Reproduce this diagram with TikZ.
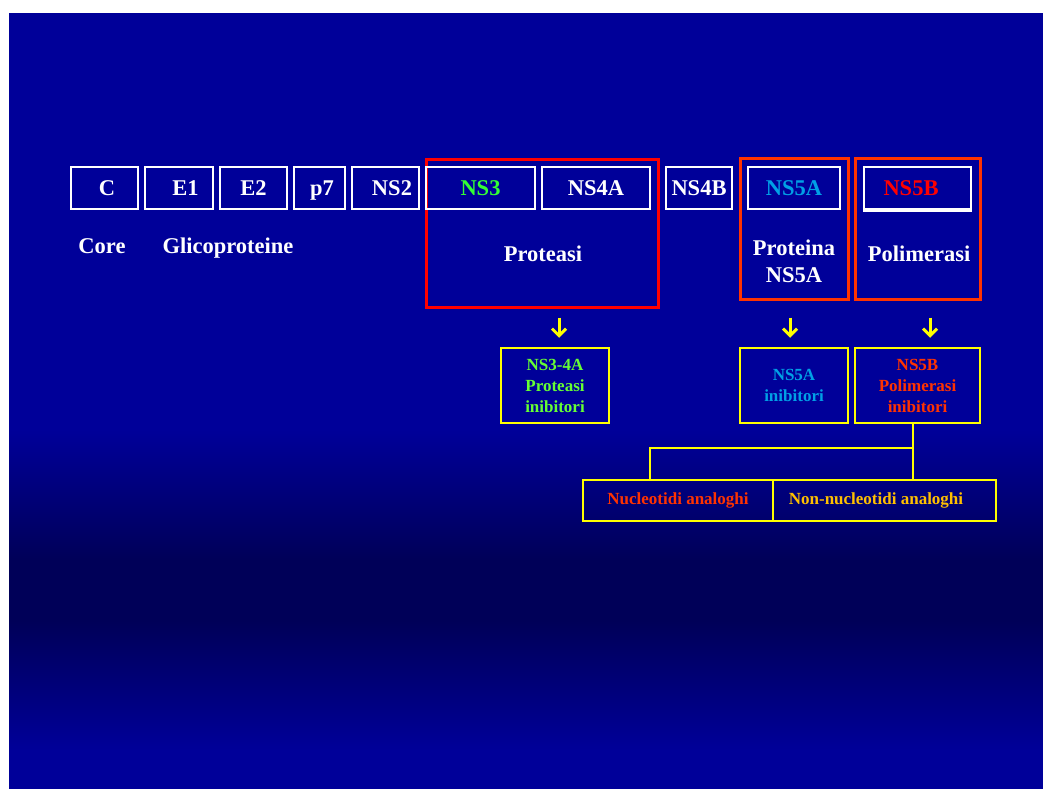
\documentclass[tikz,border=0pt]{standalone}
\usepackage{fontspec}
\setmainfont{Liberation Serif}
\usetikzlibrary{arrows.meta}
\definecolor{bgblue}{RGB}{0,0,153}
\definecolor{bgdark}{RGB}{0,0,88}
\definecolor{nsgreen}{RGB}{51,255,51}
\definecolor{igreen}{RGB}{102,255,51}
\definecolor{nsblue}{RGB}{0,160,230}
\definecolor{nsred}{RGB}{255,0,0}
\definecolor{ored}{RGB}{255,51,0}
\definecolor{gold}{RGB}{255,192,0}
\definecolor{yel}{RGB}{255,255,0}
\begin{document}
\begin{tikzpicture}[x=1pt,y=-1pt,
  big/.style={font=\fontsize{22.5}{27}\selectfont\bfseries},
  small/.style={font=\fontsize{17}{21}\selectfont\bfseries},
  wbox/.style={draw=white, line width=2pt, text=white, big, inner sep=0pt, minimum height=42pt, text height=15pt, text depth=0pt},
  rbox/.style={draw=#1, line width=3pt, inner sep=0pt},
  ybox/.style={draw=yel, line width=2.5pt, small, align=center, inner sep=0pt},
  lbl/.style={text=white, big, align=center, inner sep=0pt},
  yarrow/.style={draw=yel, line width=3pt, -{Straight Barb[length=7pt,width=14pt]}},
  yline/.style={draw=yel, line width=2pt}
]
\useasboundingbox (0,0) rectangle (1043,789);
\fill[white] (0,0) rectangle (1043,789);
\fill[bgblue] (9,13) rectangle (1043,431);
\shade[top color=bgblue, bottom color=bgdark] (9,430) rectangle (1043,561);
\fill[bgdark] (9,560) rectangle (1043,621);
\shade[top color=bgdark, bottom color=bgblue] (9,620) rectangle (1043,751);
\fill[bgblue] (9,750) rectangle (1043,789);

% red frames
\node[rbox=nsred, minimum width=232pt, minimum height=148pt] (prot) at (542,233) {};
\node[rbox=ored, minimum width=108pt, minimum height=141pt] (prna) at (794,228.5) {};
\node[rbox=ored, minimum width=125pt, minimum height=141pt] (poli) at (917.5,228.5) {};

% top row
\node[wbox, minimum width=67pt] (c)    at (104.5,188) {\hspace*{5pt}C};
\node[wbox, minimum width=68pt] (e1)   at (179,188)   {\hspace*{13pt}E1};
\node[wbox, minimum width=67pt] (e2)   at (253.5,188) {E2};
\node[wbox, minimum width=51pt] (p7)   at (319.5,188) {\hspace*{5pt}p7};
\node[wbox, minimum width=67pt] (ns2)  at (385.5,188) {\hspace*{13pt}NS2};
\node[wbox, minimum width=109pt, text=nsgreen] (ns3) at (480.5,188) {NS3};
\node[wbox, minimum width=108pt] (ns4a) at (596,188) {NS4A};
\node[wbox, minimum width=66pt] (ns4b) at (699,188) {NS4B};
\node[wbox, minimum width=92pt, text=nsblue] (ns5a) at (794,188) {NS5A};
\node[wbox, minimum width=107pt, text=nsred] (ns5b) at (917.5,188) {NS5B\hspace*{13pt}};
\draw[white, line width=3pt] (ns5b.south west) -- (ns5b.south east);

% labels
\node[lbl, anchor=base] (core) at (102,253) {Core};
\node[lbl, anchor=base] (glico) at (228,253) {Glicoproteine};
\node[lbl, anchor=base] (protl) at (543,261.5) {Proteasi};
\node[lbl] (prnal) at (794,261) {Proteina\\NS5A};
\node[lbl, anchor=base] (polil) at (919,261) {Polimerasi};

% inhibitor boxes
\node[ybox, minimum width=108pt, minimum height=75pt, text=igreen] (inA) at (555,385.5) {NS3-4A\\Proteasi\\inibitori};
\node[ybox, minimum width=108pt, minimum height=75pt, text=nsblue] (inN) at (794,385.5) {NS5A\\inibitori};
\node[ybox, minimum width=125pt, minimum height=75pt, text=ored] (inB) at (917.5,385.5) {NS5B\\Polimerasi\\inibitori};

% arrows
\draw[yarrow, shorten <=9pt, shorten >=9pt] ([xshift=4pt]prot.south -| inA.north) -- ([xshift=4pt]inA.north);
\draw[yarrow, shorten <=17pt, shorten >=9pt] ([xshift=-4pt]prna.south) -- ([xshift=-4pt]inN.north);
\draw[yarrow, shorten <=17pt, shorten >=9pt] ([xshift=12.5pt]poli.south) -- ([xshift=12.5pt]inB.north);

% bottom boxes
\node[ybox, minimum width=190pt, minimum height=41pt, text=ored] (nucl) at (678,500.5) {Nucleotidi analoghi};
\node[ybox, minimum width=223pt, minimum height=41pt, text=gold] (nonn) at (884.5,500.5) {Non-nucleotidi analoghi\hspace*{17pt}};

% connector
\coordinate (bj) at (913,448);
\coordinate (br) at (650,448);
\draw[yline] (inB.south -| bj) -- (nonn.north -| bj);
\draw[yline] (bj) -- (br) -- (nucl.north -| br);
\end{tikzpicture}
\end{document}
